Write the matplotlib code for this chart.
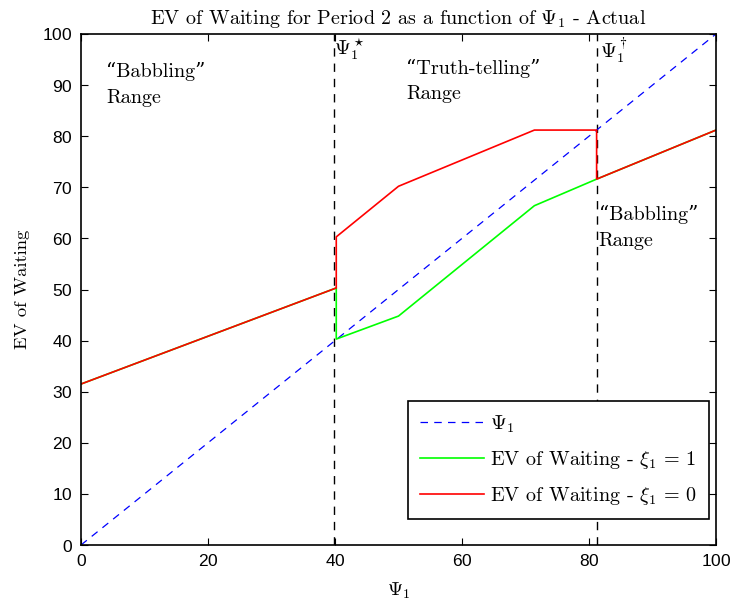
import matplotlib
matplotlib.use("Agg")
import matplotlib.pyplot as plt

# ---- data ----
psi_diag = [0, 100]

xi1_x = [0, 40.2, 40.2, 50.0, 71.4, 81.2, 100]
xi1_y = [31.5, 50.3, 40.3, 44.8, 66.4, 71.6, 81.2]

xi0_x = [0, 40.2, 40.2, 50.0, 71.4, 81.2, 81.2, 100]
xi0_y = [31.5, 50.3, 60.3, 70.2, 81.2, 81.2, 71.6, 81.2]

psi_star = 39.8
psi_dagger = 81.2

x_ticks = [0, 20, 40, 60, 80, 100]
y_ticks = list(range(0, 101, 10))

plt.rcParams["font.family"] = ["cmr10", "DejaVu Serif"]
plt.rcParams["mathtext.fontset"] = "cm"
plt.rcParams["axes.formatter.use_mathtext"] = True

fig = plt.figure(figsize=(7.34, 6.03), dpi=100)
ax = fig.add_axes([81 / 734, 1 - 545 / 603, 635 / 734, 511 / 603])

ax.plot(psi_diag, psi_diag, "--", color="blue", lw=0.9, dashes=(6, 5),
        label=r"$\Psi_1$")
ax.plot(xi1_x, xi1_y, color="#00ff00", lw=1.2,
        label=r"EV of Waiting - $\xi_1\,=\,1$")
ax.plot(xi0_x, xi0_y, color="red", lw=1.2,
        label=r"EV of Waiting - $\xi_1\,=\,0$")

for xv in (psi_star, psi_dagger):
    ax.axvline(xv, color="black", ls="--", lw=1.0, dashes=(6, 5), zorder=1)

ax.set_xlim(0, 100)
ax.set_ylim(0, 100)
ax.set_xticks(x_ticks)
ax.set_yticks(y_ticks)
ax.tick_params(direction="in", top=True, right=True, length=5, width=0.8,
               labelsize=12.5, pad=6)
for lab in ax.get_xticklabels() + ax.get_yticklabels():
    lab.set_fontfamily("Liberation Sans")
for sp in ax.spines.values():
    sp.set_linewidth(1.2)

ax.set_title(r"EV of Waiting for Period 2 as a function of $\Psi_1$ - Actual",
             fontsize=14.5, pad=7)
ax.set_xlabel(r"$\Psi_1$", fontsize=14, labelpad=8)
ax.set_ylabel("EV of Waiting", fontsize=13.4, labelpad=9)

txt = dict(fontsize=14.5, va="top", ha="left", linespacing=1.55)
ax.text(4.0, 94.5, "\u201cBabbling\u201d\nRange", **txt)
ax.text(51.2, 95.2, "\u201cTruth-telling\u201d\nRange", **txt)
ax.text(81.5, 66.5, "\u201cBabbling\u201d\nRange", **txt)
ax.text(39.9, 99.5, r"$\Psi_1^\star$", fontsize=14.5, va="top", ha="left")
ax.text(81.7, 99.5, r"$\Psi_1^\dagger$", fontsize=14.5, va="top", ha="left")

leg = ax.legend(loc="lower right", bbox_to_anchor=(0.989, 0.051),
                borderaxespad=0, fontsize=14.5, fancybox=False,
                edgecolor="black", framealpha=1, handlelength=3.2,
                handletextpad=0.3, borderpad=0.6, labelspacing=0.7)
leg.get_frame().set_linewidth(1.2)

fig.savefig("out.png", dpi=100)
